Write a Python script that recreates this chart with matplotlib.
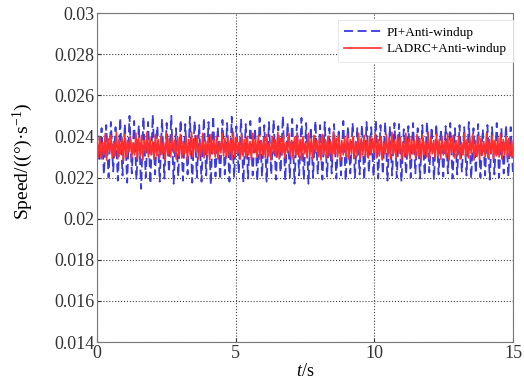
import numpy as np
import matplotlib
matplotlib.use('Agg')
import matplotlib.pyplot as plt

plt.rcParams['font.family'] = ['Liberation Serif', 'DejaVu Serif']
plt.rcParams['mathtext.fontset'] = 'custom'
plt.rcParams['mathtext.rm'] = 'Liberation Serif'
plt.rcParams['mathtext.it'] = 'Liberation Serif:italic'

# speed values, in units of 1e-5 (°)/s
pi_speed = np.array([
    2425, 2290, 2440, 2215, 2455, 2200, 2470, 2230, 2445, 2185,
    2490, 2210, 2460, 2175, 2500, 2220, 2475, 2190, 2455, 2145,
    2495, 2200, 2470, 2170, 2505, 2215, 2450, 2180, 2485, 2195,
    2465, 2225, 2500, 2170, 2440, 2205, 2480, 2185, 2460, 2215,
    2495, 2175, 2475, 2200, 2455, 2180, 2490, 2210, 2470, 2165,
    2500, 2205, 2445, 2190, 2480, 2215, 2465, 2180, 2495, 2200,
    2450, 2220, 2485, 2175, 2460, 2195, 2475, 2210, 2440, 2185,
    2490, 2205, 2455, 2180, 2470, 2215, 2480, 2190, 2450, 2225,
    2500, 2185, 2465, 2200, 2485, 2170, 2455, 2210, 2490, 2190,
    2465, 2170, 2445, 2200, 2475, 2215, 2455, 2190, 2470, 2205,
    2440, 2220, 2460, 2195, 2435, 2210, 2475, 2185, 2450, 2220,
    2465, 2200, 2440, 2215, 2455, 2190, 2470, 2225, 2445, 2205,
    2480, 2195, 2455, 2215, 2470, 2185, 2445, 2210, 2465, 2200,
    2460, 2180, 2435, 2215, 2450, 2200, 2465, 2220, 2440, 2195,
    2455, 2210, 2470, 2225, 2445, 2190, 2460, 2215, 2435, 2205,
    2450, 2220, 2465, 2195, 2440, 2215, 2455, 2225, 2445, 2210,
    2470, 2195, 2440, 2220, 2460, 2200, 2435, 2210, 2455, 2190,
    2445, 2215, 2465, 2200, 2440, 2220, 2455, 2205, 2445, 2215,
]) * 1e-5

ladrc_speed = np.array([
    2380, 2300, 2400, 2290, 2370, 2310, 2415, 2285, 2390, 2320,
    2405, 2295, 2375, 2305, 2420, 2290, 2385, 2315, 2395, 2280,
    2410, 2300, 2380, 2325, 2400, 2295, 2370, 2310, 2415, 2290,
    2390, 2305, 2405, 2285, 2380, 2320, 2420, 2300, 2395, 2310,
    2375, 2290, 2410, 2305, 2385, 2295, 2400, 2315, 2370, 2285,
    2415, 2310, 2390, 2300, 2405, 2320, 2380, 2290, 2395, 2305,
    2410, 2295, 2375, 2315, 2400, 2285, 2385, 2310, 2420, 2300,
    2390, 2325, 2405, 2290, 2370, 2305, 2415, 2295, 2380, 2310,
    2395, 2285, 2410, 2315, 2385, 2300, 2400, 2290, 2375, 2320,
    2415, 2305, 2390, 2295, 2405, 2310, 2380, 2285, 2420, 2300,
    2395, 2315, 2370, 2290, 2410, 2305, 2385, 2295, 2400, 2310,
    2375, 2285, 2415, 2320, 2390, 2300, 2405, 2290, 2380, 2310,
    2395, 2295, 2410, 2305, 2375, 2285, 2400, 2315, 2385, 2300,
    2420, 2290, 2390, 2310, 2405, 2295, 2370, 2320, 2415, 2305,
    2380, 2290, 2395, 2310, 2410, 2300, 2385, 2285, 2400, 2315,
    2375, 2295, 2415, 2305, 2390, 2290, 2405, 2320, 2380, 2300,
    2395, 2285, 2410, 2310, 2385, 2295, 2400, 2305, 2375, 2290,
    2420, 2315, 2390, 2300, 2405, 2285, 2380, 2310, 2395, 2300,
    2410, 2290, 2385, 2315, 2400, 2295, 2375, 2305, 2415, 2290,
    2390, 2310, 2405, 2300, 2380, 2295, 2400, 2310, 2390, 2320,
    2415, 2295, 2385, 2305, 2400, 2285, 2375, 2315, 2410, 2300,
    2390, 2290, 2420, 2310, 2380, 2295, 2405, 2320, 2395, 2285,
    2370, 2305, 2415, 2300, 2385, 2290, 2400, 2315, 2380, 2295,
    2410, 2305, 2390, 2285, 2405, 2310, 2375, 2300, 2420, 2290,
    2395, 2315, 2380, 2295, 2410, 2305, 2385, 2290, 2400, 2310,
    2375, 2300, 2415, 2285, 2390, 2320, 2405, 2295, 2380, 2305,
    2400, 2290, 2370, 2310, 2415, 2300, 2385, 2295, 2395, 2315,
    2410, 2285, 2380, 2305, 2400, 2290, 2390, 2310, 2375, 2300,
    2415, 2295, 2385, 2320, 2405, 2290, 2380, 2305, 2395, 2300,
    2410, 2290, 2385, 2310, 2400, 2295, 2390, 2305, 2380, 2300,
]) * 1e-5

t_pi = np.linspace(0, 15, len(pi_speed))
t_ladrc = np.linspace(0, 15, len(ladrc_speed))

xticks = [0, 5, 10, 15]
yticks = [0.014, 0.016, 0.018, 0.02, 0.022, 0.024, 0.026, 0.028, 0.03]
ytick_labels = ['0.014', '0.016', '0.018', '0.02', '0.022', '0.024', '0.026', '0.028', '0.03']

fig = plt.figure(figsize=(5.24, 3.83), dpi=100)
ax = fig.add_axes([0.185, 0.107, 0.794, 0.859])

ax.plot(t_pi, pi_speed, color='#3a3ae0', lw=1.3, ls=(0, (5, 2.5)), label='PI+Anti-windup')
ax.plot(t_ladrc, ladrc_speed, color='#ff2e2e', lw=1.2, label='LADRC+Anti-windup')

ax.set_xlim(0, 15)
ax.set_ylim(0.014, 0.03)
ax.set_xticks(xticks)
ax.set_yticks(yticks)
ax.set_yticklabels(ytick_labels)
ax.tick_params(direction='in', labelsize=13, length=3, colors='#333333', pad=2)
ax.grid(True, ls=':', color='#444444', lw=0.8)
for s in ax.spines.values():
    s.set_color('#777777')

ax.set_xlabel('$t$/s', fontsize=13, labelpad=1)
ax.set_ylabel('Speed/((°)·s$^{-1}$)', fontsize=14)
ax.yaxis.set_label_coords(-0.148, 0.55)

leg = ax.legend(loc='upper right', bbox_to_anchor=(1.0, 0.978), fontsize=9.5,
                frameon=True, fancybox=False, handlelength=2.8, borderpad=0.5,
                labelspacing=0.3, handletextpad=0.4, borderaxespad=0.0)
leg.get_frame().set_edgecolor('#e4e4e4')
leg.get_frame().set_linewidth(0.6)
leg.get_frame().set_alpha(1.0)

fig.savefig('out.png', dpi=100)
